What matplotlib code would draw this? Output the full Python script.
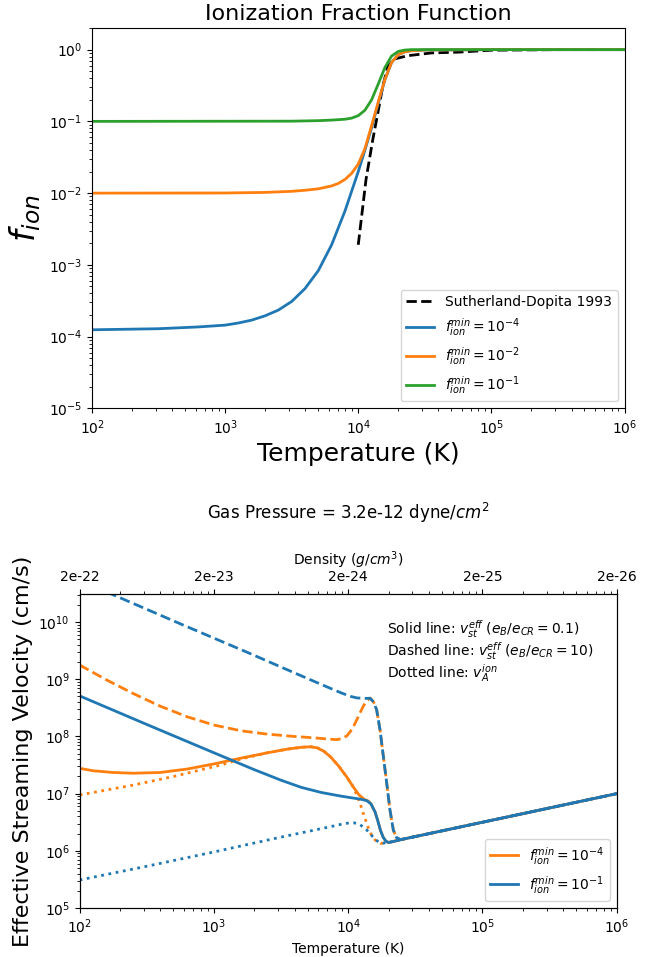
import matplotlib
matplotlib.use('Agg')
import matplotlib.pyplot as plt
import numpy as np

# ---- top panel: ionization fraction (values as log10) ----
sd_logT = [4.0, 4.058, 4.109, 4.147, 4.184, 4.222, 4.272, 4.373, 4.55, 4.75, 5.0, 5.5, 6.0]
sd_logf = [-2.72, -1.813, -1.255, -0.883, -0.512, -0.233, -0.13, -0.084, -0.046, -0.035, -0.008, 0.0, 0.0]

f4_logT = [2.0, 2.5, 2.8, 3.0, 3.1, 3.2, 3.3, 3.4, 3.5, 3.6, 3.7, 3.8, 3.9, 4.0, 4.05, 4.1,
           4.15, 4.2, 4.25, 4.3, 4.35, 4.4, 4.5, 5.0, 6.0]
f4_logf = [-3.905, -3.89, -3.865, -3.84, -3.81, -3.77, -3.71, -3.63, -3.51, -3.33, -3.08, -2.72, -2.25, -1.70, -1.40, -1.09,
           -0.75, -0.42, -0.18, -0.07, -0.03, -0.015, -0.005, 0.0, 0.0]

f2_logT = [2.0, 3.0, 3.3, 3.5, 3.6, 3.7, 3.8, 3.85, 3.9, 3.95, 4.0, 4.05, 4.1, 4.15, 4.2, 4.25, 4.3,
           4.35, 4.4, 4.5, 5.0, 6.0]
f2_logf = [-2.0, -1.998, -1.99, -1.975, -1.96, -1.94, -1.90, -1.865, -1.81, -1.725, -1.595, -1.38, -1.06, -0.73, -0.415, -0.18, -0.07,
           -0.03, -0.015, -0.005, 0.0, 0.0]

f1_logT = [2.0, 3.5, 3.7, 3.8, 3.9, 3.95, 4.0, 4.05, 4.1, 4.15, 4.2, 4.25, 4.3, 4.35, 4.4, 5.0, 6.0]
f1_logf = [-1.0, -0.997, -0.99, -0.982, -0.97, -0.955, -0.92, -0.845, -0.70, -0.48, -0.25, -0.09, -0.025, -0.006, 0.0, 0.0, 0.0]

# ---- bottom panel: streaming velocities (log10 cm/s) ----
# fmin = 1e-1 (blue)
b_sol_logT = [2.0, 2.5, 3.0, 3.3, 3.5, 3.65, 3.8, 3.95, 4.1, 4.14, 4.17, 4.2, 4.22, 4.24, 4.26, 4.28,
              4.30, 4.33, 4.4, 4.5, 5.0, 5.5, 6.0]
b_sol_logv = [8.71, 8.21, 7.715, 7.42, 7.235, 7.11, 7.02, 6.955, 6.90, 6.875, 6.82, 6.68, 6.53, 6.36, 6.24, 6.17,
              6.145, 6.16, 6.2, 6.25, 6.5, 6.75, 7.0]

b_dsh_logT = [2.0, 2.251, 2.75, 3.25, 3.494, 3.75, 3.864, 3.95, 4.02, 4.063, 4.12, 4.162, 4.19, 4.212, 4.237,
              4.262, 4.287, 4.311, 4.336, 4.36, 4.39, 4.5, 5.0, 5.5, 6.0]
b_dsh_logv = [10.73, 10.477, 9.97, 9.47, 9.22, 8.96, 8.845, 8.76, 8.70, 8.675, 8.665, 8.669, 8.6, 8.465, 8.115,
              7.648, 7.182, 6.715, 6.365, 6.23, 6.195, 6.25, 6.5, 6.75, 7.0]

b_dot_logT = [2.0, 2.5, 3.0, 3.5, 3.864, 3.95, 4.0, 4.04, 4.08, 4.11, 4.14, 4.17, 4.2, 4.23, 4.26, 4.3,
              4.4, 4.5, 5.0, 5.5, 6.0]
b_dot_logv = [5.49, 5.73, 5.98, 6.24, 6.42, 6.465, 6.485, 6.49, 6.47, 6.42, 6.36, 6.28, 6.2, 6.15, 6.135, 6.145,
              6.2, 6.25, 6.5, 6.75, 7.0]

# fmin = 1e-4 (orange)
o_sol_logT = [2.0, 2.1, 2.25, 2.4, 2.6, 2.8, 3.0, 3.2, 3.4, 3.55, 3.65, 3.72, 3.77, 3.82, 3.87, 3.93, 3.99,
              4.04, 4.08, 4.12, 4.15, 4.17, 4.2, 4.22, 4.24, 4.26, 4.28, 4.30, 4.33, 4.4, 4.5, 5.0, 5.5, 6.0]
o_sol_logv = [7.444, 7.40, 7.37, 7.357, 7.37, 7.43, 7.52, 7.62, 7.715, 7.78, 7.81, 7.82, 7.80, 7.74, 7.64, 7.48, 7.29,
              7.11, 6.98, 6.90, 6.87, 6.82, 6.68, 6.53, 6.36, 6.24, 6.17, 6.145, 6.16, 6.2, 6.25, 6.5, 6.75, 7.0]

o_dsh_logT = [2.0, 2.2, 2.4, 2.6, 2.8, 3.0, 3.2, 3.4, 3.6, 3.75, 3.85, 3.91, 3.95, 3.99, 4.03, 4.07, 4.11,
              4.14, 4.165, 4.19, 4.212, 4.237, 4.262, 4.287, 4.311, 4.336, 4.36, 4.39, 4.5, 5.0, 5.5, 6.0]
o_dsh_logv = [9.25, 8.99, 8.75, 8.53, 8.345, 8.20, 8.10, 8.04, 8.0, 7.975, 7.955, 7.945, 7.96, 8.01, 8.13, 8.32, 8.52,
              8.63, 8.67, 8.6, 8.465, 8.115, 7.648, 7.182, 6.715, 6.365, 6.23, 6.195, 6.25, 6.5, 6.75, 7.0]

o_dot_logT = [2.0, 2.4, 2.7, 2.9, 3.05, 3.2, 3.4, 3.55, 3.65, 3.72, 3.77, 3.82, 3.87, 3.93, 3.99, 4.03,
              4.06, 4.09, 4.12, 4.14, 4.16, 4.2, 4.24, 4.28, 4.33, 4.4, 4.5, 5.0, 5.5, 6.0]
o_dot_logv = [6.977, 7.15, 7.30, 7.415, 7.50, 7.605, 7.715, 7.78, 7.81, 7.82, 7.80, 7.74, 7.64, 7.48, 7.29, 7.15,
              7.0, 6.82, 6.6, 6.47, 6.33, 6.19, 6.13, 6.14, 6.16, 6.2, 6.25, 6.5, 6.75, 7.0]

T_ticks = [1e2, 1e3, 1e4, 1e5, 1e6]
dens_labels = ['2e-22', '2e-23', '2e-24', '2e-25', '2e-26']

blue = '#1f77b4'
orange = '#ff7f0e'
green = '#2ca02c'


def p(a):
    return 10 ** np.array(a)


fig = plt.figure(figsize=(6.54, 9.57), dpi=100)

# top panel
ax1 = fig.add_axes([0.1407, 0.5733, 0.8142, 0.3974])
ax1.plot(p(sd_logT), p(sd_logf), 'k--', lw=2, label='Sutherland-Dopita 1993')
ax1.plot(p(f4_logT), p(f4_logf), color=blue, lw=2, label='$f_{ion}^{min} = 10^{-4}$')
ax1.plot(p(f2_logT), p(f2_logf), color=orange, lw=2, label='$f_{ion}^{min} = 10^{-2}$')
ax1.plot(p(f1_logT), p(f1_logf), color=green, lw=2, label='$f_{ion}^{min} = 10^{-1}$')
ax1.set_xscale('log')
ax1.set_yscale('log')
ax1.set_xlim(1e2, 1e6)
ax1.set_ylim(1e-5, 2)
ax1.set_xlabel('Temperature (K)', fontsize=18)
ax1.set_ylabel('$f_{ion}$', fontsize=24)
ax1.set_title('Ionization Fraction Function', fontsize=16)
ax1.legend(loc='lower right')

# bottom panel
ax2 = fig.add_axes([0.1217, 0.0512, 0.8214, 0.3281])
ax2.plot(p(o_sol_logT), p(o_sol_logv), color=orange, lw=2, label='$f_{ion}^{min} = 10^{-4}$')
ax2.plot(p(o_dsh_logT), p(o_dsh_logv), color=orange, lw=2, ls='--')
ax2.plot(p(o_dot_logT), p(o_dot_logv), color=orange, lw=2, ls=':')
ax2.plot(p(b_sol_logT), p(b_sol_logv), color=blue, lw=2, label='$f_{ion}^{min} = 10^{-1}$')
ax2.plot(p(b_dsh_logT), p(b_dsh_logv), color=blue, lw=2, ls='--')
ax2.plot(p(b_dot_logT), p(b_dot_logv), color=blue, lw=2, ls=':')
ax2.set_xscale('log')
ax2.set_yscale('log')
ax2.set_xlim(1e2, 1e6)
ax2.set_ylim(1e5, 3.1e10)
ax2.set_xlabel('Temperature (K)')
ax2.set_ylabel('Effective Streaming Velocity (cm/s)', fontsize=16)
ax2.legend(loc='lower right')

ax2.text(0.572, 0.889, 'Solid line: $v_{st}^{eff}$ ($e_B/e_{CR} = 0.1$)', transform=ax2.transAxes, va='center')
ax2.text(0.572, 0.818, 'Dashed line: $v_{st}^{eff}$ ($e_B/e_{CR} = 10$)', transform=ax2.transAxes, va='center')
ax2.text(0.572, 0.748, 'Dotted line: $v_{A}^{ion}$', transform=ax2.transAxes, va='center')

ax3 = ax2.twiny()
ax3.set_xscale('log')
ax3.set_xlim(1e2, 1e6)
ax3.set_xticks(T_ticks)
ax3.set_xticklabels(dens_labels)
ax3.set_xlabel('Density ($g/cm^3$)')

ax2.set_title('Gas Pressure = 3.2e-12 dyne/$cm^2$', fontsize=12, y=1.239, pad=0)

fig.savefig('out.png', dpi=100)
